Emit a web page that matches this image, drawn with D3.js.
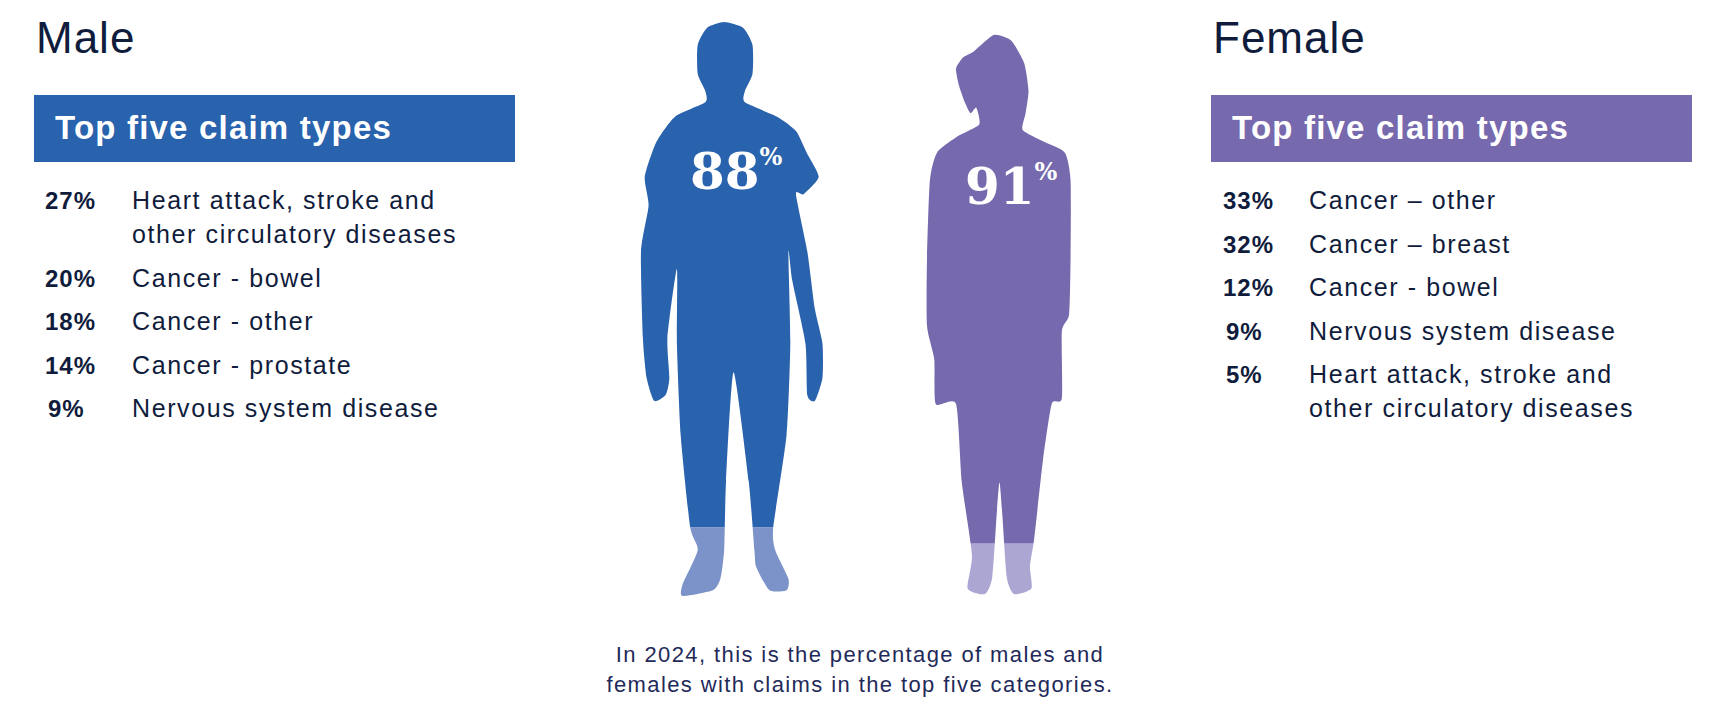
<!DOCTYPE html>
<html><head><meta charset="utf-8">
<script src="https://cdn.jsdelivr.net/npm/d3@7"></script>
<style>body{margin:0;background:#fff}</style>
</head><body>
<svg id="chart" width="1724" height="717"></svg>
<script>
const malePct = ['27%', '20%', '18%', '14%', '9%'];
const maleLabels = [['Heart attack, stroke and', 'other circulatory diseases'], ['Cancer - bowel'], ['Cancer - other'], ['Cancer - prostate'], ['Nervous system disease']];
const femalePct = ['33%', '32%', '12%', '9%', '5%'];
const femaleLabels = [['Cancer \u2013 other'], ['Cancer \u2013 breast'], ['Cancer - bowel'], ['Nervous system disease'], ['Heart attack, stroke and', 'other circulatory diseases']];
const coverage = [88, 91];
const caption = ['In 2024, this is the percentage of males and', 'females with claims in the top five categories.'];

// silhouettes in unit coordinates
const manShape = [[.44,0],[.54,.01],[.59,.04],[.59,.09],[.55,.12],[.55,.14],[.72,.165],[.82,.19],[.88,.23],[.94,.27],[.86,.30],[.82,.30],[.88,.40],[.92,.50],[.96,.56],[.96,.62],[.92,.66],[.88,.65],[.87,.56],[.80,.45],[.78,.40],[.79,.56],[.77,.72],[.70,.88],[.71,.92],[.78,.97],[.77,.99],[.68,.99],[.61,.95],[.60,.92],[.57,.80],[.49,.61],[.45,.80],[.44,.92],[.42,.97],[.38,.99],[.22,1.0],[.22,.98],[.30,.92],[.26,.88],[.21,.72],[.19,.56],[.19,.43],[.14,.55],[.15,.62],[.13,.65],[.07,.66],[.03,.62],[.01,.55],[0,.40],[.04,.32],[.02,.27],[.08,.21],[.18,.165],[.34,.14],[.34,.12],[.30,.09],[.30,.04],[.35,.01]];
const womanShape = [[.46,0],[.58,.01],[.67,.05],[.70,.10],[.68,.14],[.66,.17],[.80,.19],[.95,.21],[.99,.26],[.99,.40],[.98,.50],[.93,.53],[.93,.65],[.86,.66],[.80,.76],[.74,.90],[.71,.95],[.72,.99],[.60,1.0],[.55,.97],[.52,.86],[.50,.80],[.48,.86],[.45,.97],[.40,1.0],[.28,.99],[.31,.93],[.24,.80],[.20,.66],[.06,.66],[.05,.58],[0,.52],[0,.40],[.02,.26],[.07,.21],[.22,.18],[.36,.16],[.34,.13],[.30,.14],[.26,.12],[.22,.09],[.20,.06],[.25,.04],[.32,.03]];

const svg = d3.select('#chart');
const ink = '#101c3c';
const font = 'Liberation Sans, Arial';

function panel(x0, title, color, pct, labels, pctX, labX) {
    svg.append('text').attr('x', x0 + 2).attr('y', 53).attr('font-family', font)
        .attr('font-size', 44).attr('letter-spacing', 1).attr('fill', ink).text(title);
    svg.append('rect').attr('x', x0).attr('y', 95).attr('width', 481).attr('height', 67).attr('fill', color);
    svg.append('text').attr('x', x0 + 21).attr('y', 139).attr('font-family', font)
        .attr('font-weight', 'bold').attr('font-size', 33).attr('letter-spacing', 1.2).attr('fill', '#fff').text('Top five claim types');
    const y = d3.scaleLinear().domain([0, 5]).range([209, 427]);
    let line = 0;
    pct.forEach((p, i) => {
        svg.append('text').attr('x', pctX + (p.length < 3 ? 3 : 0)).attr('y', y(line)).attr('font-family', font)
            .attr('font-weight', 'bold').attr('font-size', 24).attr('letter-spacing', 1).attr('fill', ink).text(p);
        labels[i].forEach((l, j) => {
            svg.append('text').attr('x', labX).attr('y', y(line) + j * 34).attr('font-family', font)
                .attr('font-size', 25).attr('letter-spacing', 1.6).attr('fill', ink).text(l);
        });
        line += 1 + (labels[i].length - 1) * 0.78;
    });
}
panel(34, 'Male', '#2962ad', malePct, maleLabels, 45, 132);
panel(1211, 'Female', '#7669ae', femalePct, femaleLabels, 1223, 1309);

function figure(id, shape, x0, x1, y0, y1, dark, light, pct, tx, ty) {
    const sx = d3.scaleLinear().domain([0, 1]).range([x0, x1]);
    const sy = d3.scaleLinear().domain([0, 1]).range([y0, y1]);
    const sp = d3.scaleLinear().domain([0, 100]).range([y0, y1]);
    const path = d3.line().x(d => sx(d[0])).y(d => sy(d[1])).curve(d3.curveCardinalClosed.tension(0.4))(shape);
    svg.append('clipPath').attr('id', id).append('path').attr('d', path);
    const g = svg.append('g').attr('clip-path', `url(#${id})`);
    g.append('rect').attr('x', x0 - 10).attr('y', y0 - 10).attr('width', x1 - x0 + 20).attr('height', sp(pct) - y0 + 10).attr('fill', dark);
    g.append('rect').attr('x', x0 - 10).attr('y', sp(pct)).attr('width', x1 - x0 + 20).attr('height', y1 - sp(pct) + 10).attr('fill', light);
    const t = svg.append('text').attr('x', tx).attr('y', ty).attr('font-family', 'DejaVu Serif, Liberation Serif')
        .attr('font-weight', 'bold').attr('font-size', 50).attr('fill', '#fff');
    t.append('tspan').text(pct);
    t.append('tspan').attr('font-size', 24).attr('dy', -24).text('%');
}
figure('man', manShape, 641, 830, 22, 596, '#2962ad', '#7b93c9', coverage[0], 690, 189);
figure('woman', womanShape, 927, 1072, 35, 594, '#7669ae', '#aca6d3', coverage[1], 965, 204);

caption.forEach((c, i) => {
    svg.append('text').attr('x', 860).attr('y', 662 + i * 30).attr('text-anchor', 'middle')
        .attr('font-family', font).attr('font-size', 22).attr('letter-spacing', 1.4).attr('fill', '#1f2a5a').text(c);
});
</script>
</body></html>
